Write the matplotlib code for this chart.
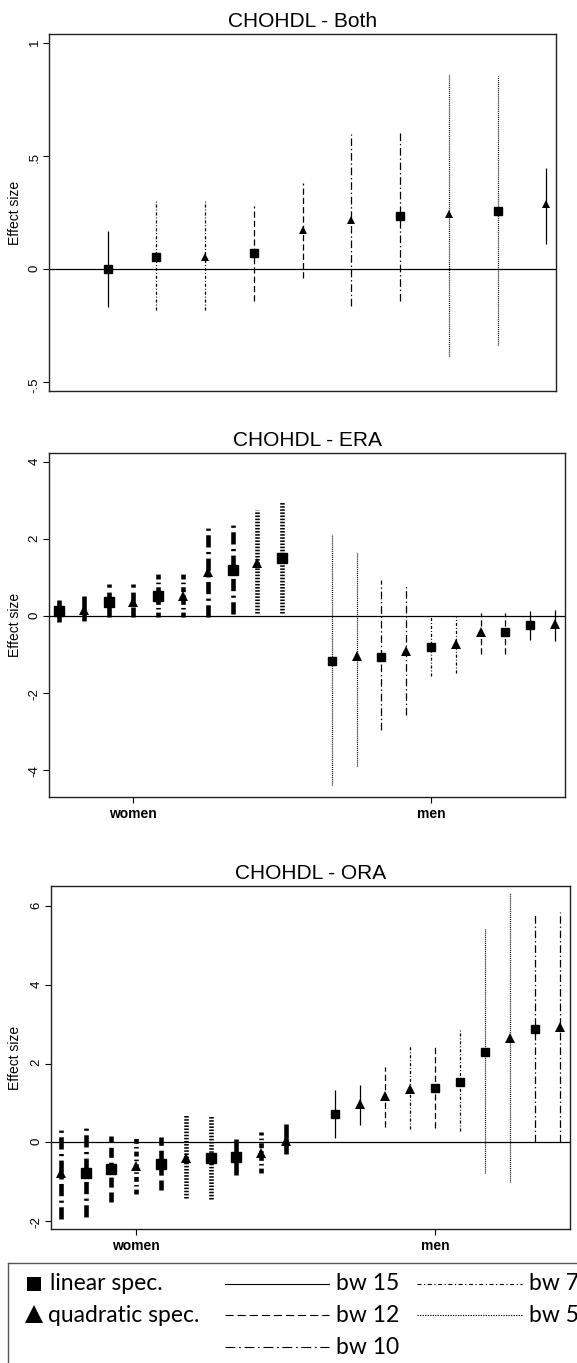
import matplotlib
matplotlib.use("Agg")
import matplotlib.pyplot as plt
import numpy as np

plt.rcParams["font.family"] = ["Liberation Sans", "DejaVu Sans"]
plt.rcParams["lines.scale_dashes"] = False

W, H = 577, 1363

# dash pattern (points) per bandwidth
BW_DASH = {
    15: None,
    12: (4.5, 2.2),
    10: (5.5, 2.0, 1.0, 2.0),
    7: (2.2, 1.4, 0.7, 1.4),
    5: (0.7, 0.7),
}

# ---------------- CHOHDL - Both
BOTH_EST = [0.00, 0.055, 0.055, 0.07, 0.172, 0.216, 0.235, 0.243, 0.255, 0.286]
BOTH_LO = [-0.17, -0.18, -0.18, -0.14, -0.04, -0.162, -0.14, -0.383, -0.336, 0.11]
BOTH_HI = [0.17, 0.30, 0.30, 0.28, 0.38, 0.596, 0.608, 0.865, 0.854, 0.449]
BOTH_SPEC = ["L", "L", "Q", "L", "Q", "Q", "L", "Q", "L", "Q"]
BOTH_BW = [15, 7, 7, 12, 12, 10, 10, 5, 5, 15]

# ---------------- CHOHDL - ERA
ERA_W_EST = [0.12, 0.16, 0.35, 0.35, 0.53, 0.53, 1.13, 1.19, 1.37, 1.51]
ERA_W_LO = [-0.15, -0.12, -0.03, -0.03, -0.03, -0.03, -0.03, 0.05, 0.08, 0.08]
ERA_W_HI = [0.42, 0.51, 0.82, 0.82, 1.09, 1.13, 2.32, 2.44, 2.75, 2.96]
ERA_W_SPEC = ["L", "Q", "L", "Q", "L", "Q", "Q", "L", "Q", "L"]
ERA_W_BW = [15, 15, 12, 12, 7, 7, 10, 10, 5, 5]

ERA_M_EST = [-1.17, -1.04, -1.06, -0.90, -0.80, -0.72, -0.41, -0.42, -0.24, -0.20]
ERA_M_LO = [-4.40, -3.89, -2.97, -2.56, -1.55, -1.48, -1.00, -1.00, -0.62, -0.65]
ERA_M_HI = [2.12, 1.67, 0.94, 0.83, -0.03, -0.03, 0.08, 0.08, 0.13, 0.16]
ERA_M_SPEC = ["L", "Q", "L", "Q", "L", "Q", "Q", "L", "L", "Q"]
ERA_M_BW = [5, 5, 10, 10, 7, 7, 12, 12, 15, 15]

# ---------------- CHOHDL - ORA
ORA_W_EST = [-0.79, -0.78, -0.68, -0.60, -0.55, -0.39, -0.39, -0.37, -0.28, 0.04]
ORA_W_LO = [-1.95, -1.89, -1.51, -1.30, -1.21, -1.42, -1.45, -0.84, -0.79, -0.30]
ORA_W_HI = [0.40, 0.40, 0.17, 0.17, 0.13, 0.69, 0.69, 0.08, 0.27, 0.46]
ORA_W_SPEC = ["Q", "L", "L", "Q", "L", "Q", "L", "L", "Q", "Q"]
ORA_W_BW = [10, 10, 12, 7, 12, 5, 5, 15, 7, 15]

ORA_M_EST = [0.72, 0.97, 1.17, 1.36, 1.39, 1.54, 2.29, 2.64, 2.87, 2.92]
ORA_M_LO = [0.10, 0.44, 0.40, 0.33, 0.36, 0.30, -0.79, -1.00, 0.02, 0.02]
ORA_M_HI = [1.34, 1.45, 1.92, 2.44, 2.44, 2.87, 5.43, 6.32, 5.77, 5.85]
ORA_M_SPEC = ["L", "Q", "Q", "Q", "L", "L", "L", "Q", "L", "Q"]
ORA_M_BW = [15, 15, 12, 7, 12, 7, 5, 5, 10, 10]

GROUPS = ["women", "men"]
GROUP_TICK_POS = [3, 15]

MARKERS = {"L": "s", "Q": "^"}


def linestyle(bw, scale=1.0):
    d = BW_DASH[bw]
    if d is None:
        return "-"
    return (0, tuple(v * scale for v in d))


def draw_points(ax, x, est, lo, hi, spec, bw, lw, ms, dscale):
    for xi, e, l, h, s, b in zip(x, est, lo, hi, spec, bw):
        ax.plot([xi, xi], [l, h], color="black", lw=lw,
                linestyle=linestyle(b, dscale), solid_capstyle="butt",
                dash_capstyle="butt", zorder=2)
        if s == "L":
            ax.plot(xi, e, marker="s", color="black", ms=ms,
                    linestyle="none", zorder=3)
        else:
            ax.plot(xi, e, marker="^", color="black", ms=ms + 0.7, mew=0,
                    linestyle="none", zorder=3)


def make_axes(fig, l, r, t, b):
    ax = fig.add_axes([l / W, 1 - b / H, (r - l) / W, (b - t) / H])
    for sp in ax.spines.values():
        sp.set_linewidth(1.0)
        sp.set_color("#222222")
    ax.tick_params(axis="y", direction="out", length=4, width=0.8,
                   labelsize=9.5, labelrotation=90, pad=2)
    ax.tick_params(axis="x", direction="out", length=4, width=0.8,
                   labelsize=10, pad=3)
    ax.axhline(0, color="black", lw=0.9, zorder=1)
    ax.set_ylabel("Effect size", fontsize=10)
    ax.yaxis.set_label_coords((22 - l) / (r - l), 0.5)
    return ax


fig = plt.figure(figsize=(W / 100, H / 100), dpi=100)

# top panel
ax1 = make_axes(fig, 49, 556, 34, 391)
x1 = np.arange(len(BOTH_EST))
draw_points(ax1, x1, BOTH_EST, BOTH_LO, BOTH_HI, BOTH_SPEC, BOTH_BW, 0.9, 5.5, 1.0)
ax1.set_xlim(-1.2, 9.2)
ax1.set_ylim(-0.54, 1.04)
ax1.set_yticks([-0.5, 0, 0.5, 1], ["-.5", "0", ".5", "1"])
ax1.set_xticks([])
ax1.set_title("CHOHDL - Both", fontsize=15, pad=5)


def group_panel(l, r, t, b, w_data, m_data, ylim, yticks, title):
    ax = make_axes(fig, l, r, t, b)
    xw = np.arange(len(w_data[0]))
    xm = np.arange(len(m_data[0])) + len(xw) + 1
    draw_points(ax, xw, *w_data, lw=3.3, ms=6.5, dscale=1.6)
    draw_points(ax, xm, *m_data, lw=0.9, ms=6.0, dscale=1.0)
    ax.set_xlim(-0.4, 20.4)
    ax.set_ylim(*ylim)
    ax.set_yticks(yticks, [str(v) for v in yticks])
    ax.set_xticks(GROUP_TICK_POS, GROUPS, fontweight="bold")
    ax.set_title(title, fontsize=15, pad=5)
    return ax


ax2 = group_panel(49, 565, 453, 797,
                  (ERA_W_EST, ERA_W_LO, ERA_W_HI, ERA_W_SPEC, ERA_W_BW),
                  (ERA_M_EST, ERA_M_LO, ERA_M_HI, ERA_M_SPEC, ERA_M_BW),
                  (-4.7, 4.23), [-4, -2, 0, 2, 4], "CHOHDL - ERA")

ax3 = group_panel(51, 570, 886, 1229,
                  (ORA_W_EST, ORA_W_LO, ORA_W_HI, ORA_W_SPEC, ORA_W_BW),
                  (ORA_M_EST, ORA_M_LO, ORA_M_HI, ORA_M_SPEC, ORA_M_BW),
                  (-2.2, 6.51), [-2, 0, 2, 4, 6], "CHOHDL - ORA")

# legend box, drawn in pixel units
lg = fig.add_axes([8 / W, 0, (W - 8 + 20) / W, (H - 1263) / H])
lg.set_xlim(8, W + 20)
lg.set_ylim(H, 1263)
lg.set_xticks([])
lg.set_yticks([])
lg.patch.set_alpha(0)
for name, sp in lg.spines.items():
    sp.set_visible(name in ("left", "top"))
    sp.set_color("#555555")
    sp.set_linewidth(1.0)

LEG_FONT = ["Lato", "DejaVu Sans"]
LEG_SIZE = 16.5
row_y = [1284, 1315, 1347]
lg.plot(34, row_y[0], marker="s", ms=10.5, mew=0, color="black", clip_on=False)
lg.plot(34, row_y[1] - 1, marker="^", ms=13, mew=0, color="black", clip_on=False)
lg.text(50, row_y[0], "linear spec.", fontsize=LEG_SIZE, va="center", family=LEG_FONT)
lg.text(48, row_y[1], "quadratic spec.", fontsize=LEG_SIZE, va="center", family=LEG_FONT)

LEG_BW = [15, 12, 10, 7, 5]
LEG_COL = [0, 0, 0, 1, 1]
LEG_ROW = [0, 1, 2, 0, 1]
col_x = [(225, 329, 336), (417, 522, 529)]
for bw, c, rw in zip(LEG_BW, LEG_COL, LEG_ROW):
    x0, x1_, xt = col_x[c]
    lg.plot([x0, x1_], [row_y[rw], row_y[rw]], color="black", lw=0.8,
            linestyle=linestyle(bw, 1.3), dash_capstyle="butt")
    lg.text(xt, row_y[rw], f"bw {bw}", fontsize=LEG_SIZE, va="center", family=LEG_FONT)

fig.savefig("out.png", dpi=100)
